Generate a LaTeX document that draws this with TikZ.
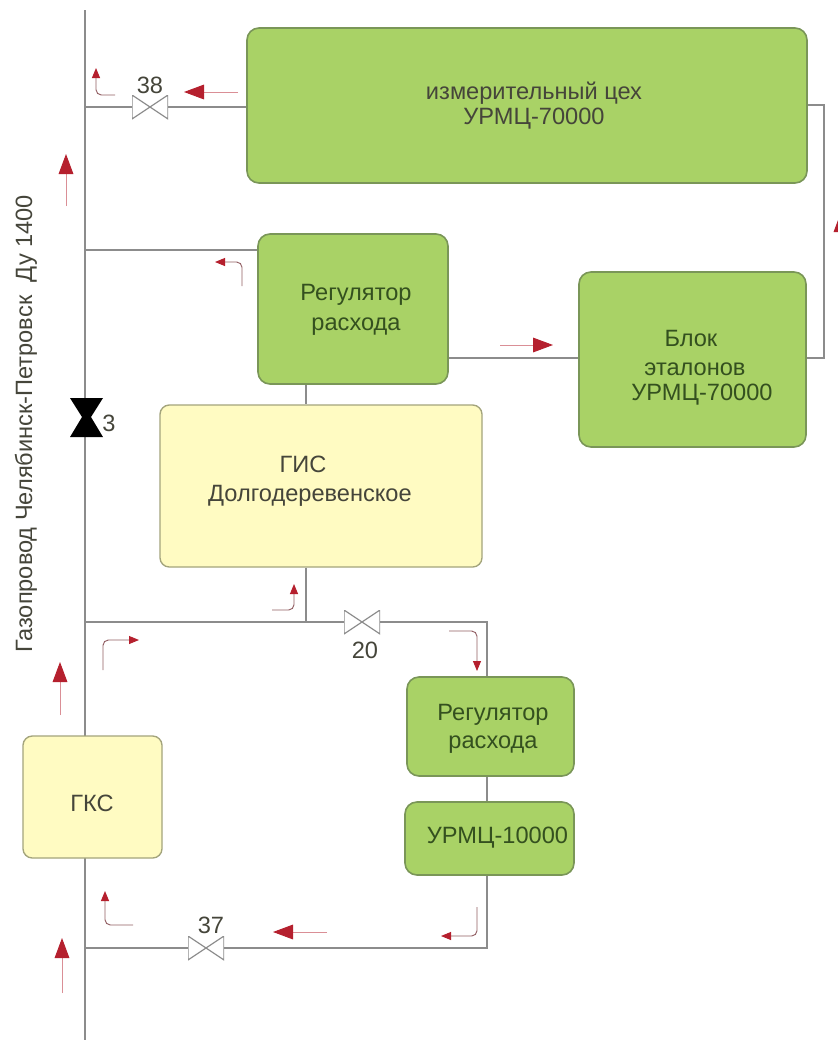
\documentclass[tikz,border=0pt]{standalone}
\usepackage{fontspec}
\setmainfont{Liberation Sans}
\usetikzlibrary{arrows.meta}
\definecolor{boxgreen}{HTML}{A9D266}
\definecolor{edgegreen}{HTML}{7A9658}
\definecolor{boxyellow}{HTML}{FFFBC2}
\definecolor{edgeyellow}{HTML}{A3A47C}
\definecolor{pipegray}{HTML}{8C8C8C}
\definecolor{flowred}{HTML}{B5202E}
\definecolor{textgreen}{HTML}{34501F}
\definecolor{textgray}{HTML}{45453A}
\tikzset{
    greenbox/.style={draw=edgegreen, line width=1.2pt, fill=boxgreen, rounded corners=9pt, inner sep=0pt},
    yellowbox/.style={draw=edgeyellow, line width=1pt, fill=boxyellow, rounded corners=7pt, inner sep=0pt},
    boxtext/.style={align=center, text=textgray, inner sep=0pt, font=\fontsize{17.7}{20.4}\selectfont},
    greentext/.style={boxtext, text=textgreen},
    pipe/.style={draw=pipegray, line width=1.2pt},
    valve/.style={minimum width=36\pxu, minimum height=24\pxu, inner sep=0pt, text=pipegray,
        path picture={\draw[pipegray, line width=0.9pt] (path picture bounding box.north west) -- (path picture bounding box.south east) -- (path picture bounding box.north east) -- (path picture bounding box.south west) -- cycle;}},
    bigflow/.style={draw=flowred!50, line width=0.7pt, -{Triangle[length=15pt, width=11pt, flowred]}},
    smallflow/.style={draw=flowred!35!gray, line width=0.7pt, rounded corners=4pt, -{Triangle[length=7.5pt, width=6pt, flowred]}},
}
\newcommand{\pxu}{pt*0.75}
\begin{document}
\begin{tikzpicture}[x=0.75pt, y=-0.75pt]
    \clip (0,0) rectangle (838,1040);
    \fill[white] (0,0) rectangle (838,1040);

    % точки на газопроводе
    \coordinate (maintop) at (85,10);
    \coordinate (mainbot) at (85,1040);
    \coordinate (j38) at (85,107);
    \coordinate (jreg) at (85,250);
    \coordinate (j20) at (85,622);
    \coordinate (j37) at (85,948);
    \coordinate (jgis) at (306,622);
    \coordinate (cor20) at (487,622);
    \coordinate (cor37) at (487,948);
    \coordinate (cortop) at (824,105);
    \coordinate (corblok) at (824,358);

    % газопровод
    \draw[pipe] (maintop) -- (mainbot);

    % блоки
    \node[greenbox, minimum width=560\pxu, minimum height=155\pxu] (izm) at (527,105.5) {};
    \node[greenbox, minimum width=190\pxu, minimum height=150\pxu] (reg1) at (353,309) {};
    \node[greenbox, minimum width=227\pxu, minimum height=175\pxu] (blok) at (692.5,359.5) {};
    \node[yellowbox, minimum width=322\pxu, minimum height=162\pxu] (gis) at (321,486) {};
    \node[greenbox, minimum width=167\pxu, minimum height=99\pxu] (reg2) at (490.5,726.5) {};
    \node[greenbox, minimum width=169\pxu, minimum height=73\pxu] (urmc) at (489.5,838.5) {};
    \node[yellowbox, minimum width=139\pxu, minimum height=122\pxu] (gks) at (92.5,797) {};

    % подписи блоков
    \node[boxtext] (izmtext) at (534,105.5) {измерительный цех\\[-1.5pt]УРМЦ-70000};
    \node[greentext] (reg1text) at (356,310) {Регулятор\\[2pt]расхода};
    \node[boxtext] (gistext) at (310,481) {\hspace*{-10.5pt}ГИС\\[1pt]Долгодеревенское};
    \node[greentext] (bloktext) at (702,368) {\hspace*{-16.5pt}Блок\\[1.5pt]\hspace*{-10.5pt}эталонов\\[-1.5pt]УРМЦ-70000};
    \node[greentext] (reg2text) at (493,729) {Регулятор\\[1pt]расхода};
    \node[greentext] (urmctext) at (497.5,838) {УРМЦ-10000};
    \node[boxtext] (gkstext) at (92,803) {ГКС};
    \node[boxtext, rotate=90] (maintext) at (26,424) {Газопровод Челябинск-Петровск\hspace{5pt} Ду 1400};

    % краны
    \node[valve] (v38) at (150,107) {};
    \node[valve] (v20) at (362,622) {};
    \node[valve] (v37) at (206,948) {};
    \node[boxtext] (v38text) at (150,85) {38};
    \node[boxtext] (v20text) at (365,650) {20};
    \node[boxtext] (v37text) at (211,925) {37};
    \fill (70,398) -- (103,398) -- (91,417) -- (103,437) -- (70,437) -- (82,417) -- cycle;
    \node[boxtext] (v3text) at (109,423) {3};

    % трубы
    \draw[pipe] (j38) -- (v38);
    \draw[pipe] (v38) -- (izm.west |- v38);
    \draw[pipe] (jreg) -- (reg1.west |- jreg);
    \draw[pipe] (reg1.east |- corblok) -- (blok.west |- corblok);
    \draw[pipe] (blok.east |- corblok) -- (corblok) -- (cortop) -- (izm.east |- cortop);
    \draw[pipe] (reg1.south -| jgis) -- (gis.north -| jgis);
    \draw[pipe] (gis.south -| jgis) -- (jgis);
    \draw[pipe] (j20) -- (v20);
    \draw[pipe] (v20) -- (cor20) -- (reg2.north -| cor20);
    \draw[pipe] (reg2.south -| cor20) -- (urmc.north -| cor20);
    \draw[pipe] (urmc.south -| cor20) -- (cor37) -- (v37);
    \draw[pipe] (v37) -- (j37);

    % большие стрелки
    \foreach \name/\xa/\ya/\xb/\yb in {a/66/206/66/154, b/60/715/60/662, c/62/993/62/938, d/238/92/184/92, e/500/345/553/345, f/327/932/273/932, g/841/262/841/212} {
        \coordinate (\name from) at (\xa,\ya);
        \coordinate (\name to) at (\xb,\yb);
        \draw[bigflow] (\name from) -- (\name to);
    }

    % малые стрелки
    \foreach \name/\xa/\ya/\xc/\yc/\xb/\yb in {h/115/95/96/95/96/68, i/242/286/242/262/215/262, j/272/610/294/610/294/584, k/103/670/103/640/139/640, l/449/631/477/631/477/671, m/133/925/105/925/105/891, n/477/907/477/936/441/936} {
        \coordinate (\name from) at (\xa,\ya);
        \coordinate (\name bend) at (\xc,\yc);
        \coordinate (\name to) at (\xb,\yb);
        \draw[smallflow] (\name from) -- (\name bend) -- (\name to);
    }
\end{tikzpicture}
\end{document}
